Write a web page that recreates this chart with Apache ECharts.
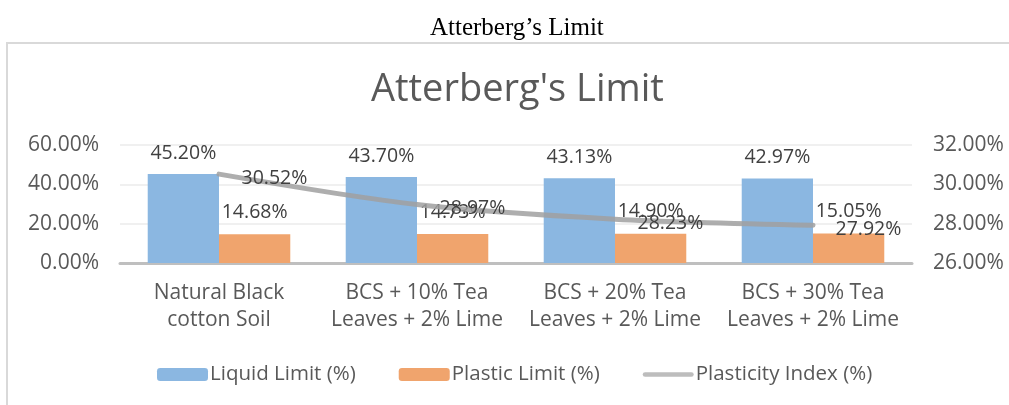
<!DOCTYPE html>
<html>
<head>
<meta charset="utf-8">
<script src="https://cdn.jsdelivr.net/npm/echarts@6/dist/echarts.min.js"></script>
<style>
html,body{margin:0;padding:0;background:#fff;}
#chart{width:1009px;height:405px;}
</style>
</head>
<body>
<div id="chart"></div>
<script>
const categories = ['Natural Black\ncotton Soil', 'BCS + 10% Tea\nLeaves + 2% Lime', 'BCS + 20% Tea\nLeaves + 2% Lime', 'BCS + 30% Tea\nLeaves + 2% Lime'];
const liquidLimit = [45.20, 43.70, 43.13, 42.97];
const plasticLimit = [14.68, 14.73, 14.90, 15.05];
const plasticityIndex = [30.52, 28.97, 28.23, 27.92];
const seriesNames = ['Liquid Limit (%)', 'Plastic Limit (%)', 'Plasticity Index (%)'];

const FONT = 'Open Sans';
const TXT = '#595959';
const pct = v => v.toFixed(2) + '%';

const chart = echarts.init(document.getElementById('chart'));
chart.setOption({
  animation: false,
  backgroundColor: '#fff',
  graphic: [{
    type: 'rect',
    shape: { x: 7, y: 43, width: 1100, height: 500 },
    style: { fill: 'none', stroke: '#d9d9d9', lineWidth: 2 },
    silent: true, z: -1
  }],
  title: [{
    text: "Atterberg\u2019s Limit",
    left: 425, top: 11,
    textStyle: { fontFamily: 'Liberation Serif', fontSize: 25, fontWeight: 'normal', color: '#000' }
  }, {
    text: "Atterberg's Limit",
    left: 366, top: 66,
    textStyle: { fontFamily: FONT, fontSize: 38, fontWeight: 'normal', color: TXT }
  }],
  legend: {
    bottom: 15, left: 152,
    itemWidth: 51, itemHeight: 13, itemGap: 43,
    textStyle: { fontFamily: FONT, fontSize: 20.5, color: TXT, padding: [0, 0, 0, -3] },
    data: [
      { name: seriesNames[0] },
      { name: seriesNames[1] },
      { name: seriesNames[2], icon: 'path://M0,0M55,13M2.5,4h50a2.5,2.5 0 0 1 0,5h-50a2.5,2.5 0 0 1 0,-5z', itemStyle: { color: '#bdbdbd' } }
    ]
  },
  grid: { left: 120, right: 97, top: 145, bottom: 142 },
  xAxis: {
    type: 'category', data: categories,
    axisLine: { lineStyle: { color: '#bfbfbf', width: 3 } },
    axisTick: { show: false },
    axisLabel: { interval: 0, fontFamily: FONT, fontSize: 21, color: TXT, lineHeight: 27, margin: 17 }
  },
  yAxis: [{
    type: 'value', min: 0, max: 60, interval: 20,
    axisLine: { show: false }, axisTick: { show: false },
    axisLabel: { fontFamily: FONT, fontSize: 21, color: TXT, margin: 21, formatter: v => v.toFixed(2) + '%' },
    splitLine: { lineStyle: { color: '#ebebeb', width: 1.5 } }
  }, {
    type: 'value', min: 26, max: 32, interval: 2,
    axisLine: { show: false }, axisTick: { show: false },
    axisLabel: { fontFamily: FONT, fontSize: 21, color: TXT, margin: 21, formatter: v => v.toFixed(2) + '%' },
    splitLine: { show: false }
  }],
  series: [{
    name: seriesNames[0], type: 'bar', data: liquidLimit,
    barGap: '0%', barCategoryGap: '28%',
    itemStyle: { color: '#8bb7e1' },
    label: { show: true, position: 'top', distance: 11, fontFamily: FONT, fontSize: 19.5, color: '#404040', formatter: p => pct(p.value) }
  }, {
    name: seriesNames[1], type: 'bar', data: plasticLimit,
    itemStyle: { color: '#f0a46d' },
    label: { show: true, position: 'top', distance: 12, fontFamily: FONT, fontSize: 19.5, color: '#404040', formatter: p => pct(p.value) }
  }, {
    name: seriesNames[2], type: 'line', yAxisIndex: 1, data: plasticityIndex,
    symbol: 'circle', symbolSize: 1, showSymbol: true, smooth: 0.3, z: 5,
    lineStyle: { color: 'rgba(160,160,160,0.85)', width: 5, cap: 'round' },
    itemStyle: { color: 'rgba(0,0,0,0)' },
    label: { show: true, position: 'right', distance: 22, offset: [0, 4], fontFamily: FONT, fontSize: 19.5, color: '#404040', formatter: p => pct(p.value) }
  }]
});
</script>
</body>
</html>
